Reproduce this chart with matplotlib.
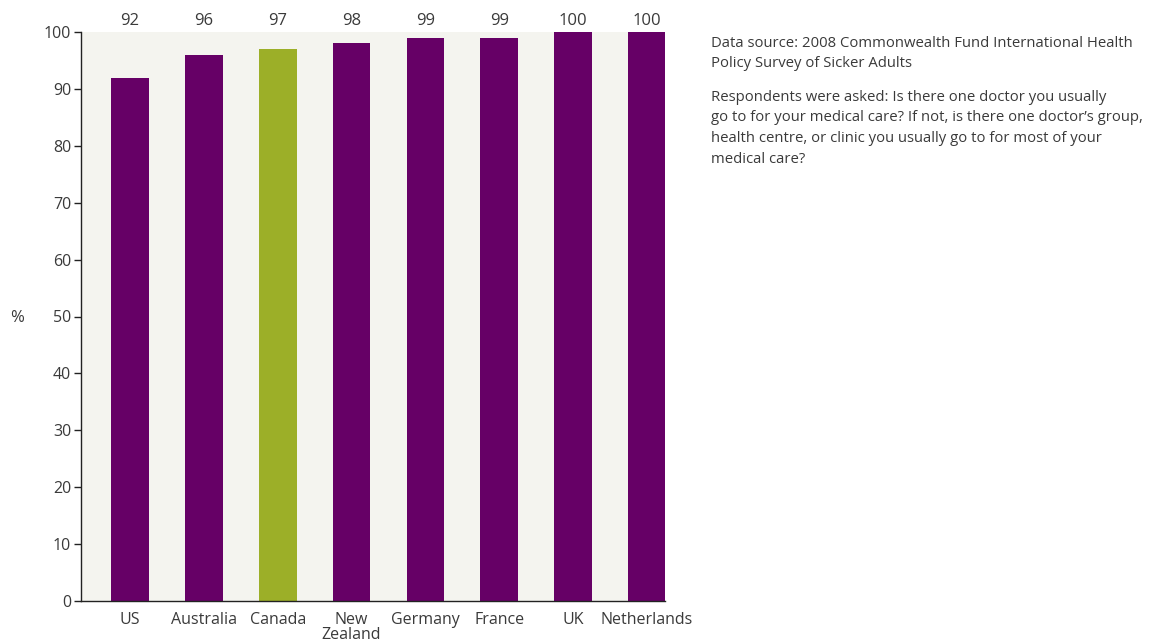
import matplotlib
matplotlib.use("Agg")
import matplotlib.pyplot as plt

countries = ["US", "Australia", "Canada", "New\nZealand", "Germany", "France", "UK", "Netherlands"]
values = [92, 96, 97, 98, 99, 99, 100, 100]
highlight = "Canada"
yticks = [0, 10, 20, 30, 40, 50, 60, 70, 80, 90, 100]
note_lines = [
    "Data source: 2008 Commonwealth Fund International Health",
    "Policy Survey of Sicker Adults",
    "Respondents were asked: Is there one doctor you usually",
    "go to for your medical care? If not, is there one doctor\u2019s group,",
    "health centre, or clinic you usually go to for most of your",
    "medical care?",
]

purple = "#660066"
green = "#9CAF28"
bg = "#F4F4EF"
txt = "#3a3a3a"

plt.rcParams['font.family'] = ['Open Sans', 'DejaVu Sans']

fig = plt.figure(figsize=(11.59, 6.43), dpi=100)
W, H = 1159, 643
ax = fig.add_axes([81 / W, 1 - 601 / H, (665 - 81) / W, (601 - 32) / H])
ax.set_facecolor(bg)

x = list(range(len(countries)))
colors = [green if c == highlight else purple for c in countries]
ax.bar(x, values, width=0.51, color=colors, zorder=2)

for xi, v in zip(x, values):
    ax.text(xi, 101.2, str(v), ha="center", va="baseline", fontsize=12, color=txt)

ax.set_xlim(-0.665, 7.245)
ax.set_ylim(0, 100)
ax.set_yticks(yticks)
ax.set_yticklabels([str(t) for t in yticks], fontsize=11.5, color=txt)
ax.set_xticks(x)
ax.set_xticklabels(countries, fontsize=11.5, color=txt, linespacing=0.9)
ax.tick_params(axis="x", length=0, pad=8)
ax.tick_params(axis="y", length=5, width=1, color="#222222", pad=2, direction="out")

for s in ["top", "right"]:
    ax.spines[s].set_visible(False)
for s in ["left", "bottom"]:
    ax.spines[s].set_color("#222222")
    ax.spines[s].set_linewidth(1)

fig.text(17 / W, 1 - 318 / H, "%", ha="center", va="center", fontsize=12, color=txt)

line_y = [47, 67, 101, 121, 142, 163]
for ly, t in zip(line_y, note_lines):
    fig.text(711 / W, 1 - ly / H, t, ha="left", va="baseline", fontsize=10.7, color=txt)

fig.savefig("out.png", dpi=100, facecolor="white")
